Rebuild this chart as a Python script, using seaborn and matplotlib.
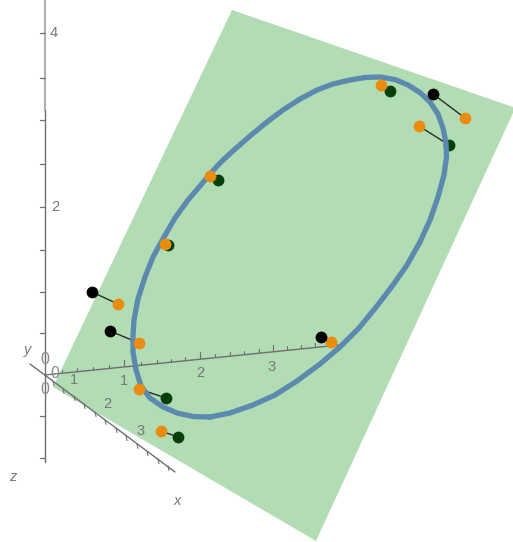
import matplotlib
matplotlib.use('Agg')
import matplotlib.pyplot as plt
import pandas as pd
import seaborn as sns

plane_x = [232, 513, 513, 316, 53]
plane_y = [10, 107, 113, 541, 387]

curve_x = [210, 193, 177, 163, 150, 141, 136, 133, 133, 134, 138, 145, 153, 164, 175, 188, 200, 210, 221,
           234, 250, 267, 283, 300, 317, 333, 350, 365, 380, 395, 408, 420, 430, 438, 443, 446, 446.5,
           444, 438, 430, 420, 407, 393, 377, 359, 340, 320, 297, 275, 253, 230, 210]
curve_y = [417, 416.5, 413, 407, 398, 386, 370, 352, 336, 320, 299, 277, 257, 237, 218, 200, 186, 174, 162,
           150, 136, 122, 110, 99, 90, 84, 80, 77.5, 77, 79.5, 85, 92.5, 102, 114, 128, 143, 157,
           175, 197, 220, 242, 265, 285, 306, 328, 347, 364, 381, 395, 405, 413, 417]

black_x = [92, 110, 321, 433]
black_y = [292, 331, 337, 94]
black_orange_x = [118, 139, 331, 465]
black_orange_y = [304, 343, 342, 118]

green_x = [166, 178, 168, 218, 390, 449]
green_y = [398, 437, 245, 180, 91, 145]
green_orange_x = [139, 161, 165, 210, 381, 419]
green_orange_y = [389, 431, 244, 176, 85, 126]

vert_ticks = [33, 78, 120, 164, 207, 250, 292, 333, 416, 458]
xaxis_ticks_x = [62, 77, 93, 109, 124, 141, 157, 171, 185, 200, 215, 230, 244, 259, 273, 287, 301, 315]
xaxis_ticks_y = [373, 371, 370, 368, 366, 365, 363, 362, 360, 358, 357, 355, 354, 352, 351, 349, 348, 346]
major_x = [124, 200, 273]
zaxis_ticks_x = [53, 63, 74, 84, 95, 105, 116, 126, 137, 147, 158, 168]
zaxis_ticks_y = [381, 389, 396, 404, 412, 420, 428, 436, 444, 451, 459, 466]

labels = [(54, 33, '4'), (55, 207, '2'), (74, 380, '1'), (124, 381, '1'), (200, 373, '2'),
          (272, 367, '3'), (107, 404, '2'), (141, 431, '3')]
names = [(28, 350, 'y'), (13, 477, 'z'), (177, 501, 'x')]
zeros = [(45, 360), (55, 373), (45, 390)]

sns.set_style('white')
plt.rcParams['font.family'] = ['Liberation Sans', 'DejaVu Sans']

fig = plt.figure(figsize=(5.13, 5.42), dpi=100)
ax = fig.add_axes([0, 0, 1, 1])

ax.fill(plane_x, plane_y, color='#b2dcb4', lw=0, zorder=1)

# axes
grey = '#6e6e6e'
ax.plot([45, 45], [0, 110], color='#b0b0b0', lw=1.6, zorder=2)
ax.plot([45, 45], [110, 462], color=grey, lw=1, zorder=2)
ax.plot([45, 340], [375, 345], color=grey, lw=1, zorder=2)
ax.plot([30, 175], [364, 472], color=grey, lw=1, zorder=2)
for t in vert_ticks:
    ax.plot([40, 45], [t, t], color=grey, lw=0.9, zorder=2)
for x, y in zip(xaxis_ticks_x, xaxis_ticks_y):
    h = 6 if x in major_x else 3.5
    ax.plot([x, x], [y, y - h], color=grey, lw=0.8, zorder=2)
for x, y in zip(zaxis_ticks_x, zaxis_ticks_y):
    ax.plot([x, x + 1], [y, y + 4.5], color=grey, lw=0.8, zorder=2)

for x, y, s in labels:
    ax.text(x, y, s, fontsize=10.5, color='#777777', ha='center', va='center', zorder=2)
for x, y, s in names:
    ax.text(x, y, s, fontsize=10.5, style='italic', color='#777777', ha='center', va='center')
for x, y in zeros:
    ax.text(x, y, '0', fontsize=11.5, color='#8a8a8a', ha='center', va='center', zorder=2)

# residual segments
for xs, ys, x2, y2 in [(black_x, black_y, black_orange_x, black_orange_y),
                       (green_x, green_y, green_orange_x, green_orange_y)]:
    for a, b, c, d in zip(xs, ys, x2, y2):
        ax.plot([a, c], [b, d], color='#2b2b2b', lw=1, zorder=3)

sns.scatterplot(x=green_x, y=green_y, color='#063f0a', s=72, linewidth=0, ax=ax, zorder=4, legend=False)

curve = pd.DataFrame({'x': curve_x, 'y': curve_y})
sns.lineplot(data=curve, x='x', y='y', sort=False, estimator=None, color='#5c89ae', lw=3.8,
             ax=ax, zorder=5, legend=False, solid_joinstyle='round')

sns.scatterplot(x=black_orange_x + green_orange_x, y=black_orange_y + green_orange_y,
                color='#e98c10', s=72, linewidth=0, ax=ax, zorder=6, legend=False)
sns.scatterplot(x=black_x, y=black_y, color='#000000', s=72, linewidth=0, ax=ax, zorder=7, legend=False)

ax.set_xlim(0, 513)
ax.set_ylim(542, 0)
ax.axis('off')
fig.savefig('out.png', dpi=100)
